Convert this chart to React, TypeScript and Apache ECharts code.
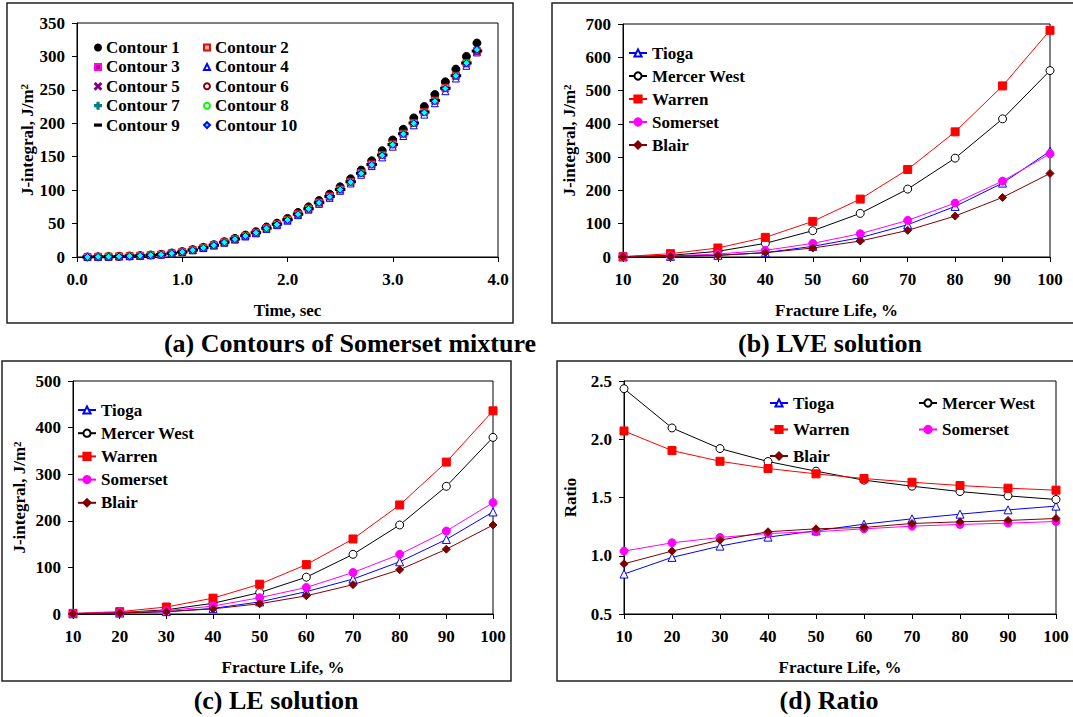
import React, { useEffect, useRef } from 'react';
import * as echarts from 'echarts';

const FONT = "'Liberation Serif', 'Times New Roman', serif";

// ---------- Panel (a): contours of Somerset mixture ----------
const TIME = [0.1, 0.2, 0.3, 0.4, 0.5, 0.6, 0.7, 0.8, 0.9, 1.0, 1.1, 1.2, 1.3, 1.4, 1.5, 1.6, 1.7, 1.8, 1.9, 2.0, 2.1, 2.2, 2.3, 2.4, 2.5, 2.6, 2.7, 2.8, 2.9, 3.0, 3.1, 3.2, 3.3, 3.4, 3.5, 3.6, 3.7, 3.8];
const CONTOUR_1 = [0.1, 0.3, 0.5, 1.0, 1.5, 2.0, 3.0, 4.0, 6.0, 8.0, 11.0, 14.4, 18.4, 22.9, 27.8, 32.8, 37.8, 44.8, 50.7, 57.7, 66.6, 75.0, 84.5, 94.0, 105, 117, 130, 144, 159, 175, 191, 208, 225, 243, 262, 281, 300, 320];
const CONTOUR_2 = [0.1, 0.3, 0.5, 0.9, 1.4, 1.9, 2.8, 3.8, 5.6, 7.6, 10.5, 13.8, 17.7, 22, 26.8, 31.6, 36.4, 43.1, 48.8, 55.6, 64.1, 72.3, 81.4, 90.6, 101, 112.5, 125.5, 138.5, 152.5, 168.5, 184.5, 200.5, 217, 234, 253, 271, 290, 308];
const CONTOUR_3 = [0.1, 0.2, 0.5, 0.9, 1.4, 1.9, 2.8, 3.8, 5.5, 7.5, 10.4, 13.7, 17.5, 21.8, 26.6, 31.4, 36.2, 42.8, 48.5, 55.2, 63.8, 71.9, 81, 90, 100.5, 112, 125, 137.8, 151.5, 167.5, 183.5, 199.5, 216, 233, 251, 270, 288, 307];
const CONTOUR_4 = [0.1, 0.2, 0.4, 0.8, 1.3, 1.8, 2.7, 3.6, 5.4, 7.3, 10, 13.3, 17.1, 21.3, 26, 30.7, 35.4, 42, 47.6, 54.3, 62.6, 70.8, 79.5, 88.5, 99, 110, 123, 136, 149, 165, 181, 197, 213, 230, 248, 267, 286, 306];
const CONTOUR_5 = [0.1, 0.2, 0.5, 0.9, 1.4, 1.9, 2.8, 3.8, 5.5, 7.6, 10.4, 13.7, 17.6, 21.9, 26.6, 31.4, 36.3, 42.9, 48.6, 55.3, 63.8, 72, 81, 90.1, 100.6, 112, 125, 138, 151.6, 167.6, 183.6, 199.6, 216, 233, 251.5, 270, 289, 307];
const CONTOUR_6 = [0.1, 0.3, 0.5, 0.9, 1.4, 1.9, 2.8, 3.8, 5.6, 7.6, 10.5, 13.8, 17.7, 22, 26.8, 31.6, 36.4, 43, 48.8, 55.5, 64, 72.2, 81.3, 90.5, 101, 112.4, 125.4, 138.4, 152.4, 168.4, 184.4, 200.4, 217, 234, 252.5, 271, 290, 308];
const CONTOUR_7 = [0.1, 0.3, 0.5, 0.9, 1.4, 1.9, 2.8, 3.8, 5.6, 7.6, 10.4, 13.7, 17.6, 22, 26.7, 31.5, 36.4, 43, 48.7, 55.4, 63.9, 72.1, 81.1, 90.2, 100.8, 112.1, 125.1, 138.1, 152.1, 168.1, 184.1, 200.1, 216.1, 233.5, 252, 271, 290, 309];
const CONTOUR_8 = [0.1, 0.3, 0.5, 0.9, 1.4, 1.9, 2.8, 3.8, 5.6, 7.7, 10.5, 13.8, 17.7, 22, 26.8, 31.6, 36.4, 43.1, 48.7, 55.5, 64, 72.1, 81.2, 90.3, 100.9, 112.2, 125.2, 138.2, 152.2, 168.2, 184.2, 200.2, 216.5, 233.5, 252.5, 271, 290.5, 309.5];
const CONTOUR_9 = [0.1, 0.3, 0.5, 0.9, 1.4, 1.9, 2.8, 3.8, 5.6, 7.6, 10.5, 13.8, 17.7, 22, 26.8, 31.6, 36.4, 43.1, 48.8, 55.6, 64.1, 72.3, 81.3, 90.5, 101, 112.4, 125.4, 138.4, 152.4, 168.4, 184.4, 200.4, 217, 234, 252.5, 271, 290, 308];
const CONTOUR_10 = [0.1, 0.3, 0.5, 0.9, 1.4, 1.9, 2.8, 3.8, 5.6, 7.6, 10.4, 13.7, 17.6, 21.9, 26.7, 31.5, 36.3, 43, 48.6, 55.4, 63.9, 72, 81, 90.2, 100.8, 112, 125, 138, 152, 168, 184, 200, 216, 233, 252, 271, 290, 310];

// ---------- Panels (b)-(d) ----------
const FRACTURE_LIFE = [10, 20, 30, 40, 50, 60, 70, 80, 90, 100];
const MIXTURES = ['Tioga', 'Mercer West', 'Warren', 'Somerset', 'Blair'];

const LVE_TIOGA = [0.5, 2, 5, 13, 32, 58, 97, 152, 222, 318];
const LVE_MERCER = [1, 5, 17, 41, 79, 131, 204, 297, 415, 560];
const LVE_WARREN = [1, 10, 27, 59, 107, 174, 263, 376, 514, 681];
const LVE_SOMERSET = [1, 3, 9, 20, 41, 70, 110, 162, 228, 310];
const LVE_BLAIR = [0.5, 2, 5, 13, 27, 48, 80, 123, 179, 251];

const LE_TIOGA = [0.5, 2, 5, 12, 26, 48, 75, 112, 160, 219];
const LE_MERCER = [0.5, 3, 9, 23, 46, 79, 128, 191, 274, 379];
const LE_WARREN = [1.4, 5, 15, 34, 64, 106, 161, 234, 326, 436];
const LE_SOMERSET = [1, 3, 7, 17, 35, 57, 89, 128, 178, 239];
const LE_BLAIR = [0.5, 2, 5, 11, 22, 39, 63, 95, 139, 191];

const RATIO_TIOGA = [0.843, 0.986, 1.083, 1.16, 1.214, 1.271, 1.317, 1.357, 1.394, 1.426];
const RATIO_MERCER = [2.434, 2.097, 1.92, 1.809, 1.726, 1.649, 1.597, 1.551, 1.514, 1.483];
const RATIO_WARREN = [2.071, 1.903, 1.811, 1.749, 1.703, 1.663, 1.631, 1.603, 1.58, 1.563];
const RATIO_SOMERSET = [1.04, 1.111, 1.157, 1.191, 1.206, 1.231, 1.254, 1.269, 1.28, 1.294];
const RATIO_BLAIR = [0.931, 1.04, 1.134, 1.206, 1.231, 1.243, 1.277, 1.291, 1.303, 1.32];

const PLUS = 'path://M4,0H6V4H10V6H6V10H4V6H0V4H4Z';
const CROSS = 'path://M1,0L5,4L9,0L10,1L6,5L10,9L9,10L5,6L1,10L0,9L4,5L0,1Z';
const DASH = 'path://M0,4H10V6H0Z';

const txt = { fontFamily: FONT, fontWeight: 'bold' as const, fontSize: 17, color: '#000' };

function xAxis(gridIndex: number, min: number, max: number, interval: number, name: string, dec: number) {
  return {
    type: 'value', gridIndex, min, max, interval,
    name, nameLocation: 'middle', nameGap: 45,
    nameTextStyle: { ...txt },
    axisLine: { show: true, onZero: false, lineStyle: { color: '#000', width: 1 } },
    axisTick: { show: true, inside: false, length: 5, lineStyle: { color: '#000' } },
    axisLabel: { ...txt, margin: 14, formatter: (v: number) => v.toFixed(dec), showMaxLabel: true, showMinLabel: true },
    splitLine: { show: false },
  };
}

function yAxis(gridIndex: number, min: number, max: number, interval: number, name: string, gap: number, dec: number) {
  return {
    type: 'value', gridIndex, min, max, interval,
    name, nameLocation: 'middle', nameGap: gap,
    nameTextStyle: {
      ...txt,
      rich: {
        n: { ...txt },
        s: { fontFamily: FONT, fontWeight: 'bold', fontSize: 11, color: '#000', verticalAlign: 'top' },
      },
    },
    axisLine: { show: true, onZero: false, lineStyle: { color: '#000', width: 1 } },
    axisTick: { show: true, inside: false, length: 5, lineStyle: { color: '#000' } },
    axisLabel: { ...txt, margin: 12, formatter: (v: number) => v.toFixed(dec) },
    splitLine: { show: false },
  };
}

const CONTOUR_STYLE: any[] = [
  { data: CONTOUR_1, symbol: 'circle', size: 8, color: '#000', border: '#000' },
  { data: CONTOUR_2, symbol: 'rect', size: 7, color: '#bdbdbd', border: '#ff0000' },
  { data: CONTOUR_3, symbol: 'rect', size: 5, color: '#b0006a', border: '#ff00ff' },
  { data: CONTOUR_4, symbol: 'triangle', size: 7, color: 'rgba(255,255,255,0)', border: '#0000ff' },
  { data: CONTOUR_5, symbol: CROSS, size: 5, color: '#800080', border: '#800080' },
  { data: CONTOUR_6, symbol: 'circle', size: 6, color: 'rgba(255,255,255,0)', border: '#800000' },
  { data: CONTOUR_7, symbol: PLUS, size: 6, color: '#008080', border: '#008080' },
  { data: CONTOUR_8, symbol: 'circle', size: 6, color: 'rgba(255,255,255,0)', border: '#00ff00' },
  { data: CONTOUR_9, symbol: 'rect', size: [7, 2], color: '#000', border: '#000', legendIcon: DASH },
  { data: CONTOUR_10, symbol: 'diamond', size: 7, color: '#00ffff', border: '#0000ff' },
];

const MIX_STYLE = [
  { symbol: 'triangle', size: 8, color: '#0000ff', fill: '#ffffff' },
  { symbol: 'circle', size: 8, color: '#000000', fill: '#ffffff' },
  { symbol: 'rect', size: 8, color: '#ff0000', fill: '#ff0000' },
  { symbol: 'circle', size: 8, color: '#ff00ff', fill: '#ff00ff' },
  { symbol: 'diamond', size: 8, color: '#800000', fill: '#800000' },
];

function mixSeries(gridIndex: number, sets: number[][]) {
  return sets.map((vals, i) => ({
    type: 'line', name: MIXTURES[i], xAxisIndex: gridIndex, yAxisIndex: gridIndex,
    data: FRACTURE_LIFE.map((x, j) => [x, vals[j]]),
    symbol: MIX_STYLE[i].symbol, symbolSize: MIX_STYLE[i].size,
    lineStyle: { color: MIX_STYLE[i].color, width: 1 },
    itemStyle: { color: MIX_STYLE[i].fill, borderColor: MIX_STYLE[i].color, borderWidth: 1 },
    showSymbol: true, clip: false,
  }));
}

export default function App() {
  const ref = useRef<HTMLDivElement>(null);
  useEffect(() => {
    if (!ref.current) return;
    const chart = echarts.init(ref.current, null, { renderer: 'svg' });
    const contourNames = CONTOUR_STYLE.map((_, i) => `Contour ${i + 1}`);
    const contourLegendItem = (i: number) => {
      const s = CONTOUR_STYLE[i];
      return s.legendIcon ? { name: contourNames[i], icon: s.legendIcon } : contourNames[i];
    };
    const legendBase = {
      orient: 'vertical', selectedMode: false, textStyle: { ...txt }, padding: 0,
    };
    const option: any = {
      animation: false,
      backgroundColor: '#fff',
      grid: [
        { left: 77, top: 23, width: 421, height: 234, show: true, borderColor: '#000', borderWidth: 1, backgroundColor: 'transparent' },
        { left: 623, top: 24, width: 427, height: 233, show: true, borderColor: '#000', borderWidth: 1, backgroundColor: 'transparent' },
        { left: 73, top: 381, width: 420, height: 233, show: true, borderColor: '#000', borderWidth: 1, backgroundColor: 'transparent' },
        { left: 624, top: 381, width: 432, height: 233, show: true, borderColor: '#000', borderWidth: 1, backgroundColor: 'transparent' },
      ],
      xAxis: [
        xAxis(0, 0, 4, 1, 'Time, sec', 1),
        xAxis(1, 10, 100, 10, 'Fracture Life, %', 0),
        xAxis(2, 10, 100, 10, 'Fracture Life, %', 0),
        xAxis(3, 10, 100, 10, 'Fracture Life, %', 0),
      ],
      yAxis: [
        yAxis(0, 0, 350, 50, '{n|J-integral, J/m}{s|2}', 41, 0),
        yAxis(1, 0, 700, 100, '{n|J-integral, J/m}{s|2}', 45, 0),
        yAxis(2, 0, 500, 100, '{n|J-integral, J/m}{s|2}', 45, 0),
        yAxis(3, 0.5, 2.5, 0.5, 'Ratio', 45, 1),
      ],
      legend: [
        { ...legendBase, left: 94, top: 39, itemWidth: 6, itemHeight: 6, itemGap: 2.4, data: [0, 2, 4, 6, 8].map(contourLegendItem) },
        { ...legendBase, left: 203, top: 39, itemWidth: 6, itemHeight: 6, itemGap: 2.4, data: [1, 3, 5, 7, 9].map(contourLegendItem) },
        { ...legendBase, left: 628, top: 44.5, itemWidth: 18, itemHeight: 9, itemGap: 6, data: MIXTURES },
        { ...legendBase, left: 77, top: 401.5, itemWidth: 18, itemHeight: 9, itemGap: 6.2, data: MIXTURES },
        { ...legendBase, left: 769, top: 394.5, itemWidth: 18, itemHeight: 9, itemGap: 9.5, data: ['Tioga', 'Warren', 'Blair'] },
        { ...legendBase, left: 918, top: 394.5, itemWidth: 18, itemHeight: 9, itemGap: 9.5, data: ['Mercer West', 'Somerset'] },
      ],
      series: [
        ...CONTOUR_STYLE.map((s, i) => ({
          type: 'scatter', name: contourNames[i], xAxisIndex: 0, yAxisIndex: 0,
          data: TIME.map((t, j) => [t, s.data[j]]),
          symbol: s.symbol, symbolSize: s.size,
          itemStyle: { color: s.color, borderColor: s.border, borderWidth: 1, opacity: 1 },
        })),
        ...mixSeries(1, [LVE_TIOGA, LVE_MERCER, LVE_WARREN, LVE_SOMERSET, LVE_BLAIR]),
        ...mixSeries(2, [LE_TIOGA, LE_MERCER, LE_WARREN, LE_SOMERSET, LE_BLAIR]),
        ...mixSeries(3, [RATIO_TIOGA, RATIO_MERCER, RATIO_WARREN, RATIO_SOMERSET, RATIO_BLAIR]),
      ],
      graphic: [
        { type: 'rect', shape: { x: 7, y: 3, width: 506, height: 320 }, style: { fill: 'none', stroke: '#222', lineWidth: 1.5 }, silent: true },
        { type: 'rect', shape: { x: 552, y: 3, width: 540, height: 320 }, style: { fill: 'none', stroke: '#222', lineWidth: 1.5 }, silent: true },
        { type: 'rect', shape: { x: 2, y: 361, width: 509, height: 320 }, style: { fill: 'none', stroke: '#222', lineWidth: 1.5 }, silent: true },
        { type: 'rect', shape: { x: 557, y: 361, width: 540, height: 320 }, style: { fill: 'none', stroke: '#222', lineWidth: 1.5 }, silent: true },
        { type: 'text', x: 350, y: 343, style: { text: '(a) Contours of Somerset mixture', fontFamily: FONT, fontWeight: 'bold', fontSize: 26, fill: '#000', align: 'center', verticalAlign: 'middle' } },
        { type: 'text', x: 830, y: 343, style: { text: '(b) LVE solution', fontFamily: FONT, fontWeight: 'bold', fontSize: 26, fill: '#000', align: 'center', verticalAlign: 'middle' } },
        { type: 'text', x: 276, y: 700, style: { text: '(c) LE solution', fontFamily: FONT, fontWeight: 'bold', fontSize: 26, fill: '#000', align: 'center', verticalAlign: 'middle' } },
        { type: 'text', x: 829, y: 700, style: { text: '(d) Ratio', fontFamily: FONT, fontWeight: 'bold', fontSize: 26, fill: '#000', align: 'center', verticalAlign: 'middle' } },
      ],
    };
    chart.setOption(option);
    return () => chart.dispose();
  }, []);
  return <div ref={ref} style={{ position: 'fixed', left: 0, top: 0, width: 1073, height: 717, background: '#fff' }} />;
}
